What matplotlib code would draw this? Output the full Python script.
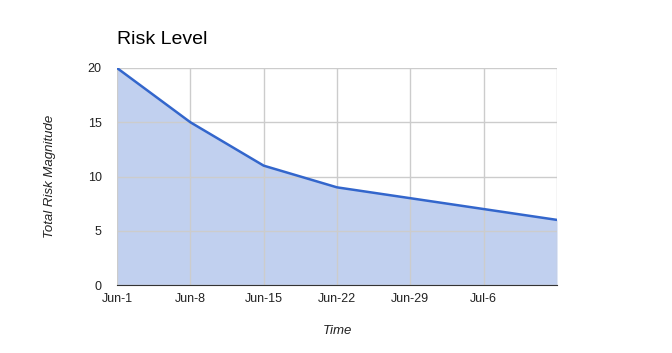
import matplotlib.pyplot as plt

plt.rcParams['font.family'] = ['Liberation Sans', 'DejaVu Sans']

weeks = ['Jun-1', 'Jun-8', 'Jun-15', 'Jun-22', 'Jun-29', 'Jul-6', '']
risk = [20, 15, 11, 9, 8, 7, 6]

x = list(range(len(weeks)))

fig = plt.figure(figsize=(6.72, 3.53), dpi=100)
ax = fig.add_axes([0.1741, 0.1926, 0.6548, 0.6148])

ax.fill_between(x, risk, 0, color='#3366cc', alpha=0.3, linewidth=0, zorder=2)
ax.plot(x, risk, color='#3366cc', linewidth=1.8, zorder=3)

ax.set_xlim(0, 6)
ax.set_ylim(0, 20)
ax.set_xticks(x)
ax.set_xticklabels(weeks)
ax.set_yticks([0, 5, 10, 15, 20])

ax.grid(True, color='#cccccc', linewidth=1, zorder=1)
ax.set_axisbelow(False)
for s in ['top', 'right', 'left']:
    ax.spines[s].set_visible(False)
ax.spines['bottom'].set_color('#333333')
ax.spines['bottom'].set_zorder(4)
ax.tick_params(length=0, labelsize=9, colors='#222222', pad=6)
ax.tick_params(axis='y', pad=11)

ax.set_xlabel('Time', style='italic', fontsize=9.5, color='#222222', labelpad=14)
ax.set_ylabel('Total Risk Magnitude', style='italic', fontsize=9.5, color='#222222', labelpad=23)
ax.set_title('Risk Level', loc='left', fontsize=14, color='black', pad=17)

fig.savefig('out.png', dpi=100)
